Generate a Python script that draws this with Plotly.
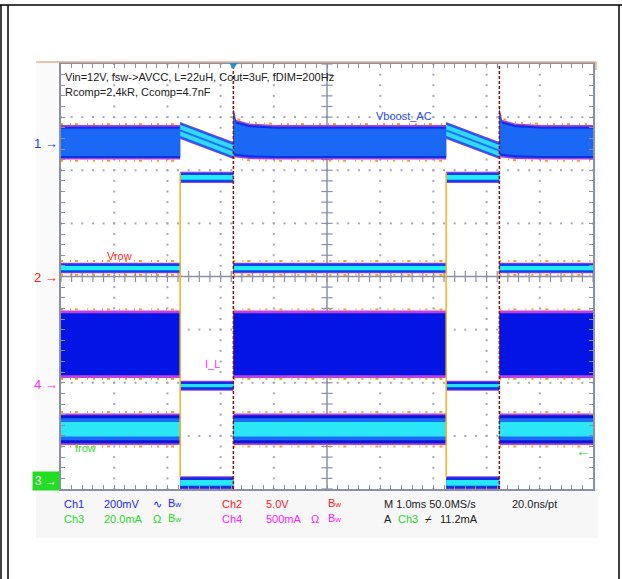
import numpy as np
import plotly.graph_objects as go

W, H = 622, 579
GL, GR, GT, GB = 61, 593, 64, 489   # graticule box in pixels

# time in ms from the left edge of the screen (1 ms/div), levels in screen divisions
DIM_OFF_START = [2.24, 7.24]
DIM_OFF_END = [3.24, 8.24]
T_END = 10.0

# Ch1 Vboost_AC envelope (low, high)
CH1_ON = [2.23, 2.82]
CH1_OFF_HI = [2.89, 2.51]
CH1_OFF_LO = [2.61, 2.23]
CH1_REC_DT = [0.0, 0.05, 0.3, 0.8]
CH1_REC_HI = [3.15, 2.92, 2.85, 2.82]
CH1_REC_LO = [2.29, 2.27, 2.24, 2.23]
# Ch2 Vrow, Ch4 I_L, Ch3 Irow envelopes (low, high)
CH2_ON = [0.08, 0.24]
CH2_OFF = [1.78, 1.95]
CH4_ON = [-1.86, -0.69]
CH4_OFF = [-2.13, -1.98]
CH3_ON = [-3.14, -2.61]
CH3_OFF = [-3.99, -3.78]

FONT = "Liberation Sans, Arial, sans-serif"
GRID = "#8a90a8"
SPECKLE = "2px,7px,1px,4px,3px,9px,1px,5px"


def px(x):
    return (x - GL) / (GR - GL)


def py(y):
    return (GB - y) / (GB - GT)


def on_spans():
    return list(zip([0.0] + DIM_OFF_END, DIM_OFF_START + [T_END]))


def off_spans():
    return list(zip(DIM_OFF_START, DIM_OFF_END))


fig = go.Figure()


def band(t, lo, hi, layers, speckle=None):
    t = list(t)
    lo = np.asarray(lo, float)
    hi = np.asarray(hi, float)
    for pad, color in layers:
        yh = hi + pad
        yl = lo - pad
        fig.add_trace(go.Scatter(x=t + t[::-1], y=list(yh) + list(yl[::-1]), mode="lines",
                                 fill="toself", fillcolor=color, line=dict(width=0),
                                 hoverinfo="skip", showlegend=False))
    if speckle:
        for yy in (hi + speckle, lo - speckle):
            fig.add_trace(go.Scatter(x=t, y=yy, mode="lines", hoverinfo="skip", showlegend=False,
                                     line=dict(color="#ff9c20", width=2, dash=SPECKLE)))


# graticule dots
gx, gy = [], []
for xd in range(1, 10):
    if xd == 5:
        continue
    ys = np.arange(-4, 4.001, 0.2)
    gx += [xd] * len(ys)
    gy += list(ys)
for yd in range(-3, 4):
    if yd == 0:
        continue
    xs = np.arange(0, 10.001, 0.2)
    gx += list(xs)
    gy += [yd] * len(xs)
fig.add_trace(go.Scatter(x=gx, y=gy, mode="markers", hoverinfo="skip", showlegend=False,
                         marker=dict(symbol="square", size=2, color="#a4a8b8", line=dict(width=0))))

# center cross with ticks
fig.add_trace(go.Scatter(x=[0, T_END], y=[0, 0], mode="lines", line=dict(color=GRID, width=1.5),
                         hoverinfo="skip", showlegend=False))
fig.add_trace(go.Scatter(x=[5, 5], y=[-4, 4], mode="lines", line=dict(color=GRID, width=1.5),
                         hoverinfo="skip", showlegend=False))
cx = np.arange(0, 10.001, 0.2)
fig.add_trace(go.Scatter(x=cx, y=[0] * len(cx), mode="markers", hoverinfo="skip", showlegend=False,
                         marker=dict(symbol="line-ns", size=8, line=dict(color=GRID, width=1.2))))
cy = np.arange(-4, 4.001, 0.2)
fig.add_trace(go.Scatter(x=[5] * len(cy), y=cy, mode="markers", hoverinfo="skip", showlegend=False,
                         marker=dict(symbol="line-ew", size=8, line=dict(color=GRID, width=1.2))))

# Ch4 I_L
for s, e in on_spans():
    band([s, e], [CH4_ON[0]] * 2, [CH4_ON[1]] * 2,
         [(0.05, "#c040e0"), (0.0, "#0414e4")], speckle=0.07)
for s, e in off_spans():
    band([s, e], [CH4_OFF[0]] * 2, [CH4_OFF[1]] * 2,
         [(0.02, "#a040e0"), (0.0, "#1030e8"), (-0.045, "#22e4f4")])

# Ch3 Irow
for s, e in on_spans():
    band([s, e], [CH3_ON[0]] * 2, [CH3_ON[1]] * 2,
         [(0.03, "#b040d8"), (0.0, "#0818d8"), (-0.06, "#1a6cf2"), (-0.13, "#2ae6f6")], speckle=0.06)
for s, e in off_spans():
    band([s, e], [CH3_OFF[0]] * 2, [CH3_OFF[1]] * 2,
         [(0.02, "#a040e0"), (0.0, "#1030e0"), (-0.05, "#22e8f8")])

# Ch2 Vrow
for s, e in on_spans():
    band([s, e], [CH2_ON[0]] * 2, [CH2_ON[1]] * 2,
         [(0.02, "#9040e0"), (0.0, "#1040f0"), (-0.04, "#22eef6")], speckle=0.05)
for s, e in off_spans():
    band([s, e], [CH2_OFF[0]] * 2, [CH2_OFF[1]] * 2,
         [(0.02, "#9040e0"), (0.0, "#1040f0"), (-0.04, "#22eef6")])

# Ch1 Vboost_AC
for s, e in on_spans():
    if s == 0.0:
        t, lo, hi = [s, e], [CH1_ON[0]] * 2, [CH1_ON[1]] * 2
    else:
        t = [s + d for d in CH1_REC_DT] + [e]
        lo = CH1_REC_LO + [CH1_ON[0]]
        hi = CH1_REC_HI + [CH1_ON[1]]
    band(t, lo, hi, [(0.03, "#a840e0"), (0.0, "#0a30e8"), (-0.04, "#1a68f4")], speckle=0.05)
for s, e in off_spans():
    band([s, e], CH1_OFF_LO, CH1_OFF_HI, [(0.02, "#8040e0"), (0.0, "#1060f0"), (-0.035, "#34d8ff")])
    mid = [(a + b) / 2 for a, b in zip(CH1_OFF_LO, CH1_OFF_HI)]
    fig.add_trace(go.Scatter(x=[s, e], y=mid, mode="lines", line=dict(color="#1a70f0", width=2),
                             hoverinfo="skip", showlegend=False))

# switching edges
for s in DIM_OFF_START:
    fig.add_trace(go.Scatter(x=[s, s], y=[CH2_OFF[1], CH3_OFF[1]], mode="lines",
                             line=dict(color="#f4b020", width=1.5), hoverinfo="skip", showlegend=False))
for e in DIM_OFF_END:
    fig.add_trace(go.Scatter(x=[e, e], y=[-4, 4], mode="lines",
                             line=dict(color="#7a1818", width=1.5, dash="3px,2px"),
                             hoverinfo="skip", showlegend=False))

ann = []


def text(x, y, s, color, size=11, anchor="left", **kw):
    ann.append(dict(x=px(x), y=py(y), xref="paper", yref="paper", text=s, showarrow=False,
                    xanchor=anchor, yanchor="middle", font=dict(family=FONT, size=size, color=color), **kw))


text(63, 77, "Vin=12V, fsw->AVCC, L=22uH, Cout=3uF, fDIM=200Hz", "#202020")
text(63, 92, "Rcomp=2.4kR, Ccomp=4.7nF", "#202020")
text(374, 116, "Vboost_AC", "#2a48ff")
text(105, 256, "Vrow", "#ff2a2a")
text(203, 364, "I_L", "#ff30ff")
text(73, 448, "Irow", "#30e030")

text(60, 143, "1 →", "#2040ff", 13, "right")
text(60, 277, "2 →", "#ff2020", 13, "right")
text(60, 384, "4 →", "#ff30ff", 13, "right")
text(60, 481, "3 →", "#ffffff", 12, "right", bgcolor="#22dd22", borderpad=2)
text(583, 450, "←", "#22dd22", 15, "center")

BW = "B<span style='font-size:8px'>w</span>"
BLUE, RED, GREEN, MAG, BLK = "#2424ff", "#ff2020", "#22dd22", "#ff22ff", "#202020"
text(62, 504, "Ch1", BLUE)
text(102, 504, "200mV", BLUE)
text(151, 504, "∿", BLUE)
text(166, 503, BW, BLUE)
text(220, 504, "Ch2", RED)
text(264, 504, "5.0V", RED)
text(326, 503, BW, RED)
text(382, 504, "M 1.0ms 50.0MS/s", BLK)
text(510, 504, "20.0ns/pt", BLK)
text(62, 519, "Ch3", GREEN)
text(102, 519, "20.0mA", GREEN)
text(151, 519, "Ω", GREEN)
text(166, 518, BW, GREEN)
text(220, 519, "Ch4", MAG)
text(264, 519, "500mA", MAG)
text(309, 519, "Ω", MAG)
text(326, 518, BW, MAG)
text(382, 519, "A", BLK)
text(396, 519, "Ch3", GREEN)
text(423, 519, "⌿", BLK)
text(438, 519, "11.2mA", BLK)


def line(x0, y0, x1, y1, color, width=1.5):
    return dict(type="line", xref="paper", yref="paper", x0=px(x0), y0=py(y0), x1=px(x1), y1=py(y1),
                line=dict(color=color, width=width))


tx = DIM_OFF_END[0]
shapes = [
    dict(type="rect", xref="paper", yref="paper", x0=px(36), x1=px(598), y0=py(489), y1=py(538),
         fillcolor="#f7f7f7", line=dict(width=0), layer="below"),
    dict(type="rect", xref="paper", yref="paper", x0=px(36), x1=px(61), y0=py(62), y1=py(489),
         fillcolor="#fafafa", line=dict(width=0), layer="below"),
    dict(type="rect", xref="paper", yref="paper", x0=px(593), x1=px(598), y0=py(62), y1=py(489),
         fillcolor="#fafafa", line=dict(width=0), layer="below"),
    line(36, 62, 596, 62, "#e2b08c", 1.5),
    line(596, 62, 596, 70, "#e2b08c", 1.5),
    line(0, 5, W, 5, "#000000", 1.5),
    line(1, 5, 1, H, "#000000", 1.5),
    line(8, 5, 8, H, "#000000", 1.5),
    line(619, 5, 619, H, "#000000", 1.5),
    # trigger position marker
    dict(type="path", xref="x", yref="paper",
         path=f"M {tx - 0.08},{py(63)} L {tx + 0.08},{py(63)} L {tx},{py(69)} Z",
         fillcolor="#1a90e0", line=dict(width=0)),
]

axis = dict(showgrid=False, zeroline=False, showline=True, mirror="ticks", linecolor=GRID, linewidth=1.5,
            ticks="inside", ticklen=4, tickcolor=GRID, tickwidth=1, showticklabels=False, fixedrange=True)
fig.update_layout(
    width=W, height=H, autosize=False,
    margin=dict(l=GL, r=W - GR, t=GT, b=H - GB, pad=0),
    paper_bgcolor="white", plot_bgcolor="white", showlegend=False,
    xaxis=dict(axis, range=[0, T_END], tick0=0, dtick=0.2),
    yaxis=dict(axis, range=[-4, 4], tick0=-4, dtick=0.2),
    annotations=ann, shapes=shapes,
)
fig.write_html("out.html", config={"displayModeBar": False},
               post_script="document.body.style.margin='0px';")
